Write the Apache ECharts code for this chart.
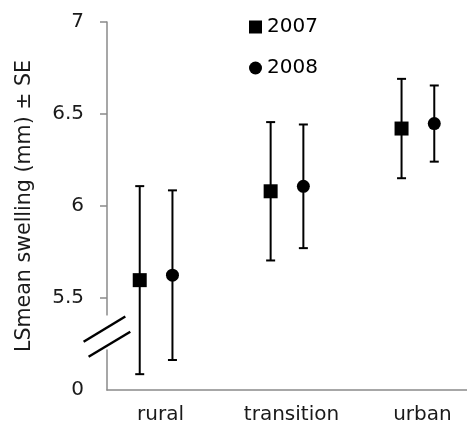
<!DOCTYPE html>
<html><head><meta charset="utf-8">
<script src="https://cdn.jsdelivr.net/npm/echarts@6/dist/echarts.min.js"></script>
<style>html,body{margin:0;padding:0;background:#fff}#c{width:467px;height:425px}</style>
</head><body><div id="c"></div>
<script>
// ---- data ----
const categories = ['rural', 'transition', 'urban'];
const mean2007 = [5.597, 6.080, 6.421];
const se2007 = [0.511, 0.376, 0.270];
const mean2008 = [5.624, 6.107, 6.448];
const se2008 = [0.461, 0.336, 0.207];
const yTicks = [5, 5.5, 6, 6.5, 7];
const yTickLabels = ['0', '5.5', '6', '6.5', '7'];
const yTickMarks = [5.5, 6, 6.5, 7];
const breakValue = 5.291;

// ---- styles ----
const OFFSET = 0.125;
const FONT = 'DejaVu Sans';
const AXIS_COLOR = '#8a8a8a';
const TEXT_COLOR = '#1a1a1a';

function errSeries(name, mean, se, off) {
  return {
    type: 'custom', name: name, silent: true, z: 2,
    data: mean.map((m, i) => [i + off, m, m - se[i], m + se[i]]),
    encode: { x: 0, y: [1, 2, 3] },
    renderItem: function (params, api) {
      const x = api.value(0);
      const lo = api.coord([x, api.value(2)]);
      const hi = api.coord([x, api.value(3)]);
      const hw = 4.5;
      const st = { stroke: '#000', lineWidth: 2 };
      return { type: 'group', children: [
        { type: 'line', shape: { x1: lo[0], y1: lo[1], x2: hi[0], y2: hi[1] }, style: st },
        { type: 'line', shape: { x1: lo[0] - hw, y1: lo[1], x2: lo[0] + hw, y2: lo[1] }, style: st },
        { type: 'line', shape: { x1: hi[0] - hw, y1: hi[1], x2: hi[0] + hw, y2: hi[1] }, style: st }
      ] };
    }
  };
}
function markSeries(name, mean, off, symbol, size) {
  return {
    type: 'scatter', name: name, symbol: symbol, symbolSize: size, z: 3,
    itemStyle: { color: '#000', opacity: 1 },
    data: mean.map((m, i) => [i + off, m])
  };
}

const chart = echarts.init(document.getElementById('c'), null, { renderer: 'canvas' });
chart.setOption({
  animation: false,
  backgroundColor: '#fff',
  grid: { left: 107, right: 0, top: 22, bottom: 32, containLabel: false },
  legend: {
    orient: 'vertical', left: 244, top: 12, itemWidth: 13, itemHeight: 13, itemGap: 21,
    selectedMode: false,
    textStyle: { fontFamily: FONT, fontSize: 20, color: '#000' },
    data: [{ name: '2007', icon: 'rect' }, { name: '2008', icon: 'circle' }]
  },
  xAxis: {
    type: 'value', min: -0.375, max: 2.375,
    axisLine: { show: true, onZero: false, lineStyle: { color: AXIS_COLOR, width: 1.5 } },
    axisTick: { show: false },
    splitLine: { show: false },
    axisLabel: {
      customValues: [0, 1, 2],
      formatter: v => categories[Math.round(v)],
      margin: 15, padding: [0, 0, 0, 9],
      fontFamily: FONT, fontSize: 20, color: TEXT_COLOR
    }
  },
  yAxis: {
    type: 'value', min: 5, max: 7, interval: 0.5,
    name: 'LSmean swelling (mm) \u00b1 SE', nameLocation: 'middle', nameGap: 72,
    nameTextStyle: { fontFamily: FONT, fontSize: 20.6, color: TEXT_COLOR },
    axisLine: { show: true, onZero: false, lineStyle: { color: AXIS_COLOR, width: 1.5 } },
    axisTick: { show: true, length: 7, customValues: yTickMarks, lineStyle: { color: AXIS_COLOR, width: 1.5 } },
    splitLine: { show: false },
    axisLabel: {
      margin: 23, fontFamily: FONT, fontSize: 20, color: TEXT_COLOR,
      customValues: yTicks,
      formatter: v => { const k = yTicks.indexOf(v); return k >= 0 ? yTickLabels[k] : ''; }
    }
  },
  series: [
    errSeries('err2007', mean2007, se2007, -OFFSET),
    errSeries('err2008', mean2008, se2008, OFFSET),
    markSeries('2007', mean2007, -OFFSET, 'rect', 14),
    markSeries('2008', mean2008, OFFSET, 'circle', 13)
  ]
});

// axis break decoration, positioned via the axes
const p = chart.convertToPixel({ gridIndex: 0 }, [-0.375, breakValue]);
const bs = { stroke: '#000', lineWidth: 2.5 };
chart.setOption({
  graphic: [
    { type: 'rect', z: 100, shape: { x: p[0] - 3, y: p[1] - 21, width: 6, height: 34 }, style: { fill: '#fff' } },
    { type: 'line', z: 101, shape: { x1: p[0] - 23.4, y1: p[1] + 5.3, x2: p[0] + 18.3, y2: p[1] - 20 }, style: bs },
    { type: 'line', z: 101, shape: { x1: p[0] - 18.4, y1: p[1] + 20.3, x2: p[0] + 23.3, y2: p[1] - 4.7 }, style: bs }
  ]
});
</script>
</body></html>
